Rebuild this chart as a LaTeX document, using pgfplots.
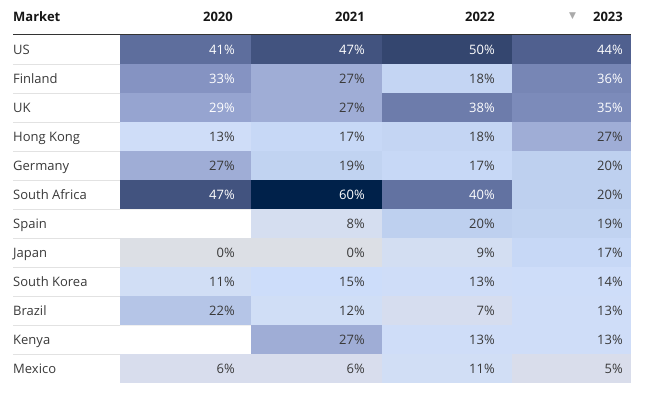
\documentclass[border=0pt]{standalone}
\usepackage{pgfplots}
\pgfplotsset{compat=1.18}
\usepackage{pgfplotstable}
\usepackage{fontspec}
\setmainfont{Open Sans}
\newfontfamily\symfont{DejaVu Sans}
\definecolor{txt}{RGB}{57,57,57}
\definecolor{hdr}{RGB}{22,22,22}
\definecolor{rule}{RGB}{51,51,51}
\definecolor{sep}{RGB}{226,226,226}
\definecolor{tri}{RGB}{170,170,170}

% row: 0 US,1 Finland,2 UK,3 Hong Kong,4 Germany,5 South Africa,6 Spain,7 Japan,8 South Korea,9 Brazil,10 Kenya,11 Mexico
\pgfplotstableread{
row v
0 41
1 33
2 29
3 13
4 27
5 47
7 0
8 11
9 22
11 6
}\tA
\pgfplotstableread{
row v
0 47
1 27
2 27
3 17
4 19
5 60
6 8
7 0
8 15
9 12
10 27
11 6
}\tB
\pgfplotstableread{
row v
0 50
1 18
2 38
3 18
4 17
5 40
6 20
7 9
8 13
9 7
10 13
11 11
}\tC
\pgfplotstableread{
row v
0 44
1 36
2 35
3 27
4 20
5 20
6 19
7 17
8 14
9 13
10 13
11 5
}\tD

\pgfdeclareplotmark{cellwide}{\pgfpathrectangle{\pgfpoint{-65.7pt}{-14.6pt}}{\pgfpoint{131.4pt}{29.2pt}}\pgfusepathqfill}
\pgfdeclareplotmark{cellmid}{\pgfpathrectangle{\pgfpoint{-65.2pt}{-14.6pt}}{\pgfpoint{130.4pt}{29.2pt}}\pgfusepathqfill}
\pgfdeclareplotmark{cellnarrow}{\pgfpathrectangle{\pgfpoint{-59.5pt}{-14.6pt}}{\pgfpoint{119pt}{29.2pt}}\pgfusepathqfill}

\pgfplotsset{
  cellplot/.style={
    scatter, only marks, mark=#1,
    point meta=\thisrow{v},
    scatter/use mapped color={fill=mapped color, draw=mapped color},
  },
  cellval/.style={
    only marks, mark=none,
    point meta=\thisrow{v},
    visualization depends on={\thisrow{v}\as\val},
    nodes near coords={\ifdim\val pt>28pt\color{white}\else\color{txt}\fi\pgfmathprintnumber[fixed,precision=0,assume math mode=true]{\val}\%},
    every node near coord/.append style={anchor=base east, xshift=#1, yshift=-5.5pt, inner sep=0pt, font=\fontsize{13}{15}\selectfont},
  },
}

\begin{document}
\begin{tikzpicture}
\begin{axis}[
  scale only axis, width=646pt, height=398pt,
  xmin=0, xmax=646, ymin=0, ymax=398, y dir=reverse,
  hide axis, clip=false,
  point meta min=0, point meta max=60,
  colormap={bluegray}{
    rgb255=(220,223,229)
    rgb255=(217,221,235)
    rgb255=(210,222,244)
    rgb255=(205,221,250)
    rgb255=(190,208,239)
    rgb255=(167,181,220)
    rgb255=(146,160,205)
    rgb255=(124,139,186)
    rgb255=(98,114,161)
    rgb255=(75,91,138)
    rgb255=(52,70,111)
    rgb255=(26,52,93)
    rgb255=(0,33,74)
  },
]
\addplot[cellplot=cellwide] table[x expr=185.5, y expr=49.5+29*\thisrow{row}] {\tA};
\addplot[cellplot=cellwide] table[x expr=316.5, y expr=49.5+29*\thisrow{row}] {\tB};
\addplot[cellplot=cellmid] table[x expr=447, y expr=49.5+29*\thisrow{row}] {\tC};
\addplot[cellplot=cellnarrow] table[x expr=571.5, y expr=49.5+29*\thisrow{row}] {\tD};

% row separators
\pgfplotsinvokeforeach{64,93,122,151,180,209,238,267,296,325,354}{
  \draw[sep, line width=0.9pt] (axis cs:13,#1) -- (axis cs:120,#1);
  \draw[black, opacity=0.06, line width=0.9pt] (axis cs:120,#1) -- (axis cs:631,#1);
}

\addplot[cellval=49.5pt] table[x expr=185.5, y expr=49.5+29*\thisrow{row}] {\tA};
\addplot[cellval=48.5pt] table[x expr=316.5, y expr=49.5+29*\thisrow{row}] {\tB};
\addplot[cellval=48pt] table[x expr=447, y expr=49.5+29*\thisrow{row}] {\tC};
\addplot[cellval=51.5pt] table[x expr=571.5, y expr=49.5+29*\thisrow{row}] {\tD};

% header rule
\draw[rule, line width=1.7pt] (axis cs:13,34.5) -- (axis cs:631,34.5);

% header
\begin{scope}[every node/.style={inner sep=0pt, text=hdr, font=\fontsize{13}{15}\selectfont\bfseries}]
\node[anchor=base west] at (axis cs:13,21.6) {Market};
\node[anchor=base east] at (axis cs:233,21.6) {2020};
\node[anchor=base east] at (axis cs:365,21.6) {2021};
\node[anchor=base east] at (axis cs:495,21.6) {2022};
\node[anchor=base east] at (axis cs:623,21.6) {2023};
\end{scope}
\node[inner sep=0pt, text=tri, font=\symfont\fontsize{9}{9}\selectfont] at (axis cs:572.5,16) {▼};

% market labels
\begin{scope}[every node/.style={inner sep=0pt, anchor=base west, text=txt, font=\fontsize{13}{15}\selectfont}]
\node at (axis cs:13,55) {US};
\node at (axis cs:13,84) {Finland};
\node at (axis cs:13,113) {UK};
\node at (axis cs:13,142) {Hong Kong};
\node at (axis cs:13,171) {Germany};
\node at (axis cs:13,200) {South Africa};
\node at (axis cs:13,229) {Spain};
\node at (axis cs:13,258) {Japan};
\node at (axis cs:13,287) {South Korea};
\node at (axis cs:13,316) {Brazil};
\node at (axis cs:13,345) {Kenya};
\node at (axis cs:13,374) {Mexico};
\end{scope}
\end{axis}
\pgfresetboundingbox
\useasboundingbox (current axis.south west) rectangle (current axis.north east);
\end{tikzpicture}
\end{document}
